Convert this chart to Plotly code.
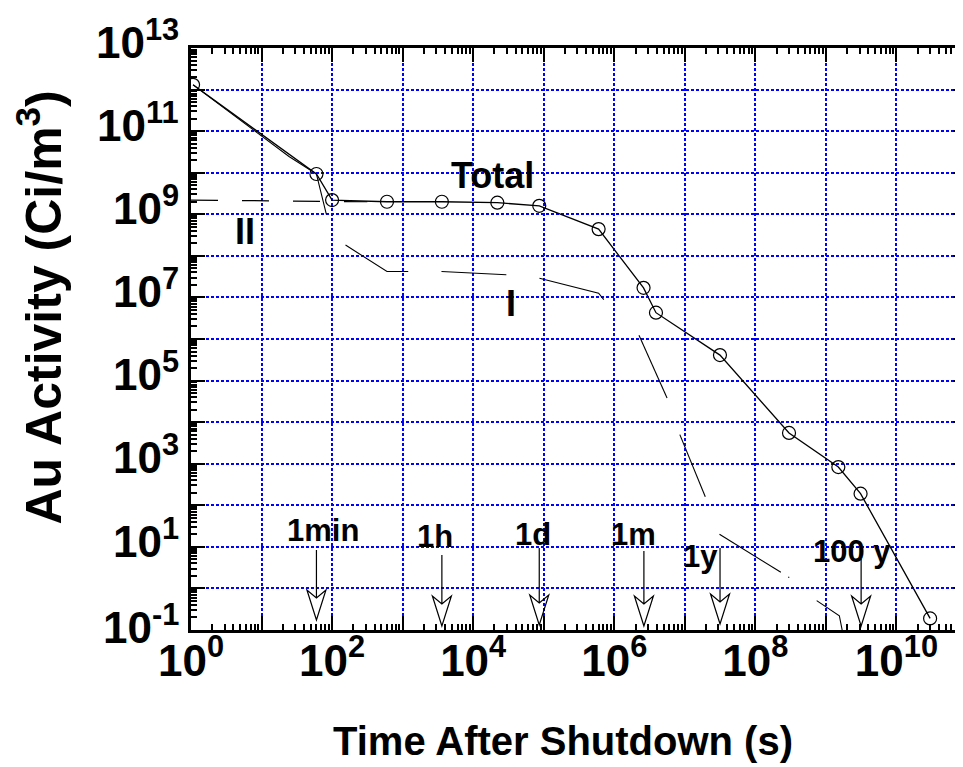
import math
import plotly.graph_objects as go

# ---------------- data ----------------
# Total activity (open circles joined by a line)
total_time = [1.07, 60, 100, 600, 3600, 2.2e4, 8.64e4, 6.0e5, 2.6e6, 3.9e6,
              3.15e7, 3.0e8, 1.5e9, 3.1e9, 3.0e10]
total_act = [1.3e12, 9.3e9, 2.2e9, 2.0e9, 2.0e9, 1.9e9, 1.6e9, 4.4e8, 1.7e7,
             4.3e6, 4.1e5, 5.5e3, 8.3e2, 1.9e2, 0.19]

# short-lived component (follows total, then drops after 1 min)
short_time = [1.07, 8.1, 24.5, 60, 83]
short_act = [1.3e12, 1.0e11, 2.45e10, 9.3e9, 1.0e9]

# component II (long-dashed, ~2e9)
comp2_time = [1.0, 316]
comp2_act = [2.2e9, 2.0e9]

# component I (broken line pieces, None = gap)
comp1_time = [155, 600, 1200, None, 3550, 2.95e4, None, 8.7e4, 6.0e5, 7.1e5, None,
              2.24e6, 5.6e6, None, 8.5e6, 1.95e7, None, 3.1e7, 2.3e8, None,
              2.95e8, 3.0e8, None, 7.4e8, 1.55e9, 1.7e9]
comp1_act = [1.82e8, 4.2e7, 4.2e7, None, 4.2e7, 3.5e7, None, 2.9e7, 1.26e7, 8.9e6, None,
             1.23e6, 3.8e4, None, 5.0e3, 1.6e2, None, 20, 2.45, None,
             1.9, 1.8, None, 0.51, 0.22, 0.1]

# time markers (arrows)
mark_time = [60, 3600, 86400, 2.63e6, 3.156e7, 3.156e9]
mark_label = ["1min", "1h", "1d", "1m", "1y", "100 y"]

# axis ticks
x_exp = list(range(0, 12))
x_tickvals = [10 ** k for k in x_exp]
x_ticktext = [f"10<sup>{k}</sup>" if (k % 2 == 0 and k <= 10) else "" for k in x_exp]
y_exp = list(range(-1, 14))
y_tickvals = [10.0 ** k for k in y_exp]
y_label_exp = [k for k in y_exp if k % 2 != 0]

# ---------------- layout geometry ----------------
W, H = 963, 767
ML, MR, MT, MB = 183, 1, 40, 145
PW, PH = W - ML - MR, H - MT - MB


def pxx(px):
    return (px - ML) / PW


def pyy(py):
    return (H - MB - py) / PH


FONT = "Liberation Sans, Arial, Helvetica, sans-serif"
TICKFONT = dict(family=FONT, size=44, color="black", weight="bold")

fig = go.Figure()

fig.add_trace(go.Scatter(x=comp2_time, y=comp2_act, mode="lines",
                         line=dict(color="black", width=1.2, dash="27px,24px"),
                         showlegend=False, hoverinfo="skip"))
fig.add_trace(go.Scatter(x=comp1_time, y=comp1_act, mode="lines", connectgaps=False,
                         line=dict(color="black", width=1.1),
                         showlegend=False, hoverinfo="skip"))
fig.add_trace(go.Scatter(x=short_time, y=short_act, mode="lines",
                         line=dict(color="black", width=1.1),
                         showlegend=False, hoverinfo="skip"))
fig.add_trace(go.Scatter(x=total_time, y=total_act, mode="lines+markers",
                         line=dict(color="black", width=1.3),
                         marker=dict(symbol="circle-open", size=13,
                                     line=dict(color="black", width=1.2)),
                         showlegend=False))

axis_common = dict(
    type="log", tickmode="array", ticks="inside", ticklen=14, tickwidth=2,
    tickcolor="black", mirror="allticks", showline=True, linewidth=2.5,
    linecolor="black", showgrid=True, gridcolor="#0000ff", griddash="3px,2px",
    zeroline=False, tickfont=TICKFONT,
    minor=dict(ticks="inside", ticklen=6, tickwidth=1.5, tickcolor="black",
               dtick="D1", showgrid=False),
)

fig.update_layout(
    width=W, height=H,
    margin=dict(l=ML, r=MR, t=MT, b=MB),
    paper_bgcolor="white", plot_bgcolor="white",
    xaxis=dict(range=[0, 11], tickvals=x_tickvals, ticktext=x_ticktext,
               gridwidth=1.7, ticklabelstandoff=-10, **axis_common),
    yaxis=dict(range=[-1, 13], tickvals=y_tickvals, showticklabels=False,
               gridwidth=2, **axis_common),
    font=dict(family=FONT, color="black"),
)

# y tick labels (odd decades), placed on the y scale
for k in y_label_exp:
    fig.add_annotation(xref="paper", yref="y", x=0, y=k, xanchor="right",
                       yanchor="middle", xshift=-10,
                       yshift=min(9, round(13.5 - 0.6 * (11 - k))),
                       text=f"10<sup>{k}</sup>", showarrow=False, font=TICKFONT)

# axis titles as annotations (placed like the reference)
fig.add_annotation(xref="paper", yref="paper", x=pxx(556), y=pyy(733),
                   text="Time After Shutdown (s)", showarrow=False,
                   font=dict(family=FONT, size=40, weight="bold"),
                   xanchor="center", yanchor="middle")
fig.add_annotation(xref="paper", yref="paper", x=pxx(31), y=pyy(300),
                   text="Au Activity (Ci/m<sup>3</sup>)", showarrow=False,
                   textangle=-90,
                   font=dict(family=FONT, size=50, weight="bold"),
                   xanchor="center", yanchor="middle")

# curve labels
for txt, (cx, cy) in zip(["Total", "II", "I"], [(486, 167), (237, 223), (504, 295)]):
    fig.add_annotation(xref="paper", yref="paper", x=pxx(cx), y=pyy(cy), text=txt,
                       showarrow=False, font=dict(family=FONT, size=36, weight="bold"),
                       xanchor="center", yanchor="middle")

# time-marker arrows: shaft + open notched head, anchored at the data time
label_dx = [7, -7, -6, -10, -20, -9]
label_py = [522, 528, 526, 526, 548, 543]
tip_gap = [10, 4, 5, 4, 6, 4]
shaft_len = [70, 71, 77, 75, 76, 67]
for t, lab, dx, ly, tg, sl in zip(mark_time, mark_label, label_dx, label_py,
                                  tip_gap, shaft_len):
    path = (f"M 0,{tg + sl} L 0,{tg + 22} "
            f"M -9.5,{tg + 30} L 0,{tg} L 9.5,{tg + 30} L 0,{tg + 22} Z")
    fig.add_shape(type="path", xref="x", yref="paper", xsizemode="pixel",
                  ysizemode="pixel", xanchor=t, yanchor=0, path=path,
                  line=dict(color="black", width=1.2), layer="above")
    fig.add_annotation(xref="x", yref="paper", x=math.log10(t), xshift=dx,
                       y=pyy(ly), text=lab, showarrow=False,
                       font=dict(family=FONT, size=31, weight="bold"),
                       xanchor="center", yanchor="middle")

fig.write_html("out.html")
